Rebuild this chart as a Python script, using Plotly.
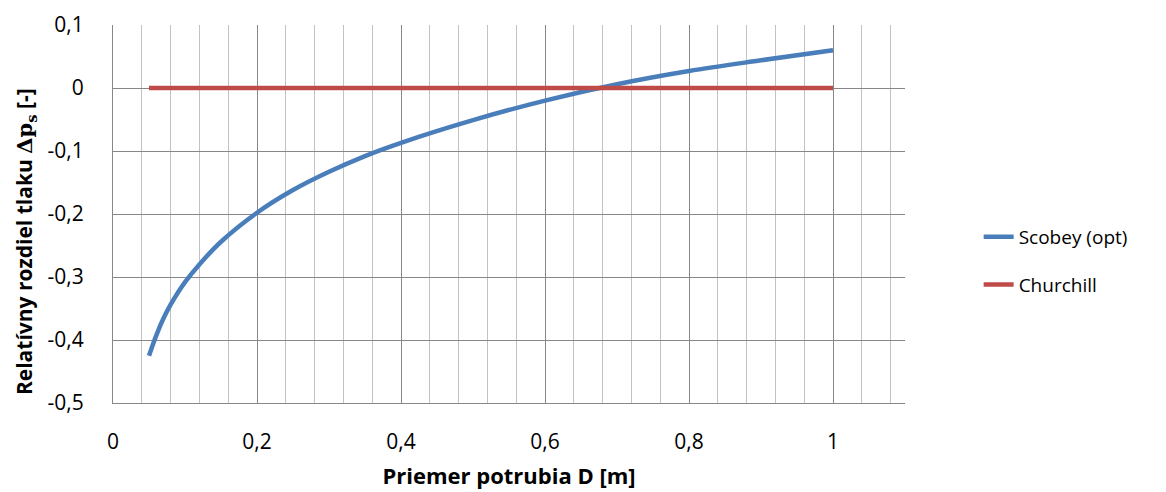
import plotly.graph_objects as go

# Data
d_scobey = [0.05, 0.06, 0.07, 0.08, 0.09, 0.10, 0.12, 0.15, 0.20, 0.25, 0.30, 0.35, 0.40, 0.50, 0.60, 0.70, 0.80, 0.90, 1.00]
v_scobey = [-0.425, -0.393, -0.366, -0.344, -0.325, -0.308, -0.280, -0.244, -0.198, -0.162, -0.133, -0.108, -0.087, -0.051, -0.020, 0.006, 0.027, 0.044, 0.060]
d_churchill = [0.05, 1.00]
v_churchill = [0.0, 0.0]

x_tickvals = [0, 0.2, 0.4, 0.6, 0.8, 1.0]
x_ticktext = ["0", "0,2", "0,4", "0,6", "0,8", "1"]
y_tickvals = [0.1, 0.0, -0.1, -0.2, -0.3, -0.4, -0.5]
y_ticktext = ["0,1", "0", "-0,1", "-0,2", "-0,3", "-0,4", "-0,5"]

FONT = "'Open Sans', Lato, sans-serif"

fig = go.Figure()
fig.add_trace(go.Scatter(x=d_scobey, y=v_scobey, mode="lines", name="Scobey (opt)",
                         line=dict(color="#4a7ebb", width=4.5, shape="spline", smoothing=1.0),
                         legendgroup="a"))
fig.add_trace(go.Scatter(x=d_churchill, y=v_churchill, mode="lines", name="Churchill",
                         line=dict(color="#be4b48", width=4.5),
                         legendgroup="b"))

fig.update_layout(
    width=1166, height=492,
    margin=dict(l=113, r=261, t=25, b=89, autoexpand=False),
    paper_bgcolor="white", plot_bgcolor="white",
    font=dict(family=FONT, size=19, color="black"),
    showlegend=True,
    legend=dict(x=1.093, y=0.376, xanchor="left", yanchor="middle",
                font=dict(size=19), tracegroupgap=20, bgcolor="rgba(0,0,0,0)"),
    xaxis=dict(range=[0, 1.1], tickvals=x_tickvals, ticktext=x_ticktext, automargin=False,
               showgrid=True, gridcolor="#878787", gridwidth=1,
               minor=dict(dtick=0.04, tick0=0, showgrid=True, gridcolor="#c2c2c2", gridwidth=1),
               showline=True, linecolor="#878787", linewidth=1, zeroline=False,
               ticks="", ticklabelstandoff=20, tickfont=dict(size=21),
               title=dict(text="<b>Priemer potrubia D [m]</b>", font=dict(size=22), standoff=14)),
    yaxis=dict(range=[-0.5, 0.1], tickvals=y_tickvals, ticktext=y_ticktext, automargin=False,
               showgrid=True, gridcolor="#878787", gridwidth=1,
               showline=True, linecolor="#878787", linewidth=1, zeroline=False,
               ticks="", ticklabelstandoff=24, tickfont=dict(size=21)),
    annotations=[dict(
        text="<b>Relatívny rozdiel tlaku <span style='font-family:DejaVu Serif'>Δp<sub>s</sub></span> [-]</b>",
        xref="paper", yref="paper", x=-0.111, y=0.426, xanchor="center", yanchor="middle",
        textangle=-90, showarrow=False, font=dict(size=21, color="black"))],
)

fig.write_html("out.html")
